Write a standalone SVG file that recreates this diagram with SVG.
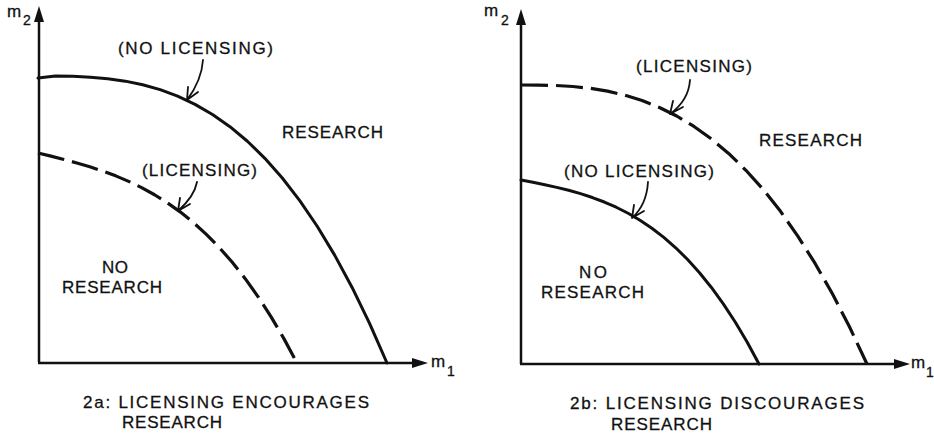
<svg xmlns="http://www.w3.org/2000/svg" width="934" height="433" viewBox="0 0 934 433">
<style>
text{font-family:"Liberation Sans",Arial,sans-serif;fill:#111;stroke:#111;stroke-width:0.3;}
.lbl{font-size:17px;}
.m{font-size:17px;}
.sub{font-size:14px;}
.axis{stroke:#111;stroke-width:2.5;fill:none;}
.head{fill:#111;stroke:none;}
.solid{stroke:#111;stroke-width:3;fill:none;stroke-linecap:round;stroke-linejoin:round;}
.dash{stroke:#111;stroke-width:3.2;fill:none;stroke-dasharray:27 8;stroke-linejoin:round;}
.ptr{stroke:#111;stroke-width:1.8;fill:none;stroke-linecap:round;stroke-linejoin:round;}
</style>
<rect width="934" height="433" fill="#fff"/>

<g id="panel-2a">
  <g id="axes-2a">
    <path class="axis" d="M39,362 V20 M38,363 H415"/>
    <polygon class="head" points="39,6 34,22 44,22"/>
    <polygon class="head" points="428,363 412,358 412,368"/>
    <text class="m" x="7" y="17">m</text><text class="sub" x="23" y="25">2</text>
    <text class="m" x="431" y="367">m</text><text class="sub" x="447" y="376">1</text>
  </g>
  <g id="curve-2a-nolicensing">
    <polyline class="solid" points="38,78 55.45,76.05 72.9,76.36 90.35,77.17 107.8,78.7 125.25,81.15 142.7,84.72 160.15,89.66 177.6,96.15 195.05,104.33 212.5,114.46 229.95,126.68 247.4,141.26 264.85,158.31 282.3,178.03 299.75,200.62 317.2,226.27 334.65,255.15 352.1,287.43 369.55,323.31 387,363"/>
  </g>
  <g id="curve-2a-licensing">
    <polyline class="dash" points="38,153 50.95,156.17 63.9,159.45 76.85,162.95 89.8,166.78 102.75,171.05 115.7,175.87 128.65,181.35 141.6,187.61 154.55,194.75 167.5,202.88 180.45,212.11 193.4,222.55 206.35,234.32 219.3,247.52 232.25,262.27 245.2,278.66 258.15,296.83 271.1,316.86 284.05,338.88 297,363"/>
  </g>
  <g id="label-2a-nolicensing">
    <text class="lbl" x="118" y="54" textLength="155" lengthAdjust="spacing">(NO LICENSING)</text>
  </g>
  <g id="label-2a-licensing">
    <text class="lbl" x="142" y="176" textLength="115" lengthAdjust="spacing">(LICENSING)</text>
  </g>
  <g id="region-2a-research">
    <text class="lbl" x="282" y="138" textLength="101" lengthAdjust="spacing">RESEARCH</text>
  </g>
  <g id="region-2a-noresearch">
    <text class="lbl" x="102" y="273" textLength="26" lengthAdjust="spacing">NO</text>
    <text class="lbl" x="62" y="293" textLength="100" lengthAdjust="spacing">RESEARCH</text>
  </g>
  <g id="caption-2a">
    <text class="lbl" x="83" y="408" textLength="286" lengthAdjust="spacing">2a:  LICENSING  ENCOURAGES</text>
    <text class="lbl" x="122" y="428" textLength="100" lengthAdjust="spacing">RESEARCH</text>
  </g>
</g>

<g id="panel-2b">
  <g id="axes-2b">
    <path class="axis" d="M521,364 V24 M520,364 H897"/>
    <polygon class="head" points="521,9 516,25 526,25"/>
    <polygon class="head" points="910,364 894,359 894,369"/>
    <text class="m" x="484" y="16">m</text><text class="sub" x="501" y="25">2</text>
    <text class="m" x="911" y="368">m</text><text class="sub" x="926" y="377">1</text>
  </g>
  <g id="curve-2b-licensing">
    <polyline class="dash" points="521,85 538.3,85.07 555.6,85.5 572.9,86.51 590.2,88.34 607.5,91.17 624.8,95.18 642.1,100.54 659.4,107.47 676.7,116 694,126.49 711.3,138.85 728.6,153.44 745.9,170.29 763.2,189.51 780.5,211.36 797.8,236.13 815.1,263.45 832.4,293.8 849.7,327.28 867,364"/>
  </g>
  <g id="curve-2b-nolicensing">
    <polyline class="solid" points="521,180 532.9,182.32 544.8,184.74 556.7,187.37 568.6,190.3 580.5,193.66 592.4,197.53 604.3,202.02 616.2,207.23 628.1,213.27 640,220.25 651.9,228.26 663.8,237.41 675.7,247.8 687.6,259.53 699.5,272.72 711.4,287.46 723.3,303.85 735.2,322 747.1,342.02 759,364"/>
  </g>
  <g id="label-2b-licensing">
    <text class="lbl" x="636" y="72" textLength="116" lengthAdjust="spacing">(LICENSING)</text>
  </g>
  <g id="label-2b-nolicensing">
    <text class="lbl" x="564" y="177" textLength="150" lengthAdjust="spacing">(NO LICENSING)</text>
  </g>
  <g id="region-2b-research">
    <text class="lbl" x="759" y="146" textLength="103" lengthAdjust="spacing">RESEARCH</text>
  </g>
  <g id="region-2b-noresearch">
    <text class="lbl" x="579" y="278" textLength="28" lengthAdjust="spacing">NO</text>
    <text class="lbl" x="541" y="298" textLength="103" lengthAdjust="spacing">RESEARCH</text>
  </g>
  <g id="caption-2b">
    <text class="lbl" x="570" y="409" textLength="294" lengthAdjust="spacing">2b:  LICENSING  DISCOURAGES</text>
    <text class="lbl" x="611" y="430" textLength="101" lengthAdjust="spacing">RESEARCH</text>
  </g>
</g>

<g id="connectors">
  <path class="ptr" d="M203,60 C202,75 196,88 187,100 M188,87 L187,100 L198,92"/>
  <path class="ptr" d="M197,182 C195,193 188,202 178,211 M180,198 L178,211 L190,204"/>
  <path class="ptr" d="M690,80 C689,95 681,106 670,114 M673,101 L670,114 L683,107"/>
  <path class="ptr" d="M648,182 C647,198 641,210 632,218 M634,205 L632,218 L644,211"/>
</g>
</svg>
